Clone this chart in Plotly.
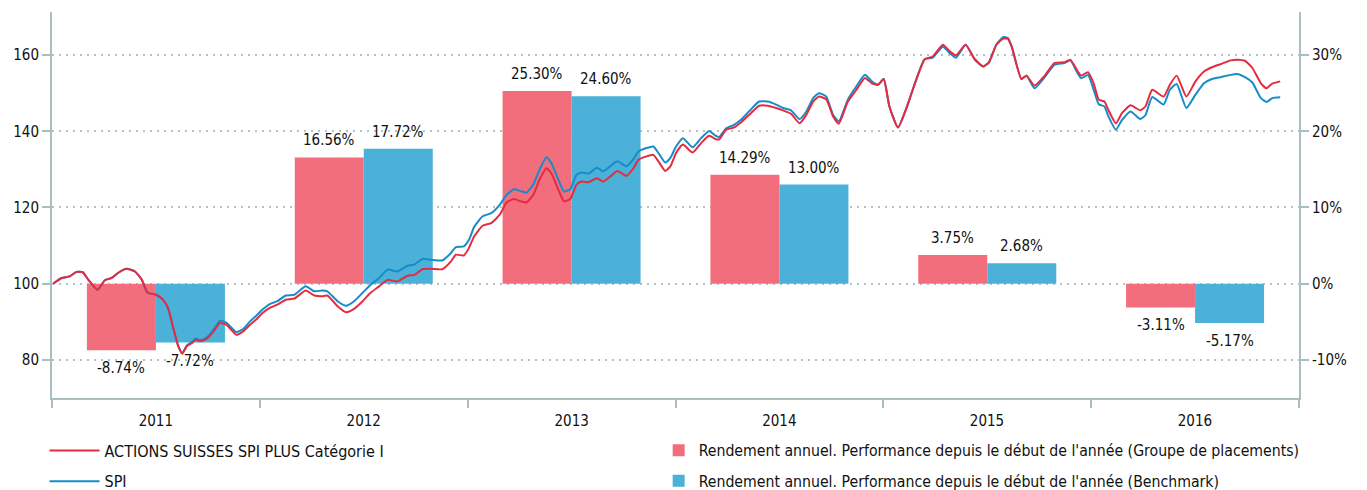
import plotly.graph_objects as go

# Annual returns (year-to-date performance, %)
years = ["2011", "2012", "2013", "2014", "2015", "2016"]
ret_fund = [-8.74, 16.56, 25.30, 14.29, 3.75, -3.11]
ret_bench = [-7.72, 17.72, 24.60, 13.00, 2.68, -5.17]

# Indexed performance (base 100)
dates = [
    "2011-01-03", "2011-01-18", "2011-02-01", "2011-02-13", "2011-02-24", "2011-03-06", "2011-03-22", "2011-04-04", "2011-04-16", "2011-04-27",
    "2011-05-12", "2011-05-27", "2011-06-08", "2011-06-18", "2011-07-03", "2011-07-15", "2011-07-24", "2011-08-03", "2011-08-11", "2011-08-18",
    "2011-08-26", "2011-09-03", "2011-09-11", "2011-09-18", "2011-09-27", "2011-10-05", "2011-10-14", "2011-10-23", "2011-11-04", "2011-11-21",
    "2011-12-03", "2011-12-15", "2011-12-26", "2012-01-06", "2012-01-18", "2012-02-01", "2012-02-16", "2012-03-02", "2012-03-22", "2012-04-06",
    "2012-04-20", "2012-04-29", "2012-05-17", "2012-06-01", "2012-06-15", "2012-06-30", "2012-07-14", "2012-07-29", "2012-08-13", "2012-08-30",
    "2012-09-17", "2012-09-29", "2012-10-13", "2012-10-28", "2012-11-17", "2012-12-02", "2012-12-11", "2012-12-25", "2013-01-03", "2013-01-12",
    "2013-01-27", "2013-02-11", "2013-02-26", "2013-03-10", "2013-03-23", "2013-04-04", "2013-04-14", "2013-04-26", "2013-05-07", "2013-05-19",
    "2013-05-28", "2013-06-09", "2013-06-19", "2013-06-30", "2013-07-11", "2013-07-20", "2013-08-01", "2013-08-16", "2013-08-27", "2013-09-08",
    "2013-09-21", "2013-10-07", "2013-10-19", "2013-10-28", "2013-11-11", "2013-11-23", "2013-12-02", "2013-12-14", "2013-12-23", "2014-01-02",
    "2014-01-14", "2014-01-31", "2014-02-15", "2014-03-01", "2014-03-13", "2014-03-19", "2014-03-31", "2014-04-14", "2014-04-26", "2014-05-14",
    "2014-05-28", "2014-06-12", "2014-06-27", "2014-07-09", "2014-07-23", "2014-08-07", "2014-08-19", "2014-08-31", "2014-09-10", "2014-09-23",
    "2014-10-05", "2014-10-15", "2014-10-31", "2014-11-15", "2014-11-30", "2014-12-12", "2014-12-23", "2015-01-02", "2015-01-12", "2015-01-27",
    "2015-02-11", "2015-02-25", "2015-03-15", "2015-03-29", "2015-04-16", "2015-04-28", "2015-05-09", "2015-05-26", "2015-06-11", "2015-06-26",
    "2015-07-06", "2015-07-19", "2015-07-31", "2015-08-08", "2015-08-15", "2015-09-01", "2015-09-10", "2015-09-24", "2015-10-12", "2015-10-29",
    "2015-11-16", "2015-11-26", "2015-12-09", "2015-12-15", "2015-12-27", "2016-01-06", "2016-01-15", "2016-01-25", "2016-02-01", "2016-02-14",
    "2016-02-25", "2016-03-11", "2016-03-28", "2016-04-06", "2016-04-18", "2016-05-08", "2016-05-19", "2016-05-31", "2016-06-17", "2016-07-03",
    "2016-07-18", "2016-08-01", "2016-08-16", "2016-09-03", "2016-09-15", "2016-09-28", "2016-10-11", "2016-10-26", "2016-11-05", "2016-11-15",
    "2016-11-29",
]

fund = [
    100.0, 101.5, 101.9, 103.1, 103.0, 101.0, 98.4, 100.9, 101.5, 102.8,
    103.9, 103.2, 101.0, 97.6, 97.1, 95.8, 93.6, 87.9, 83.6, 81.6,
    83.6, 84.3, 85.3, 84.9, 85.3, 86.2, 87.9, 89.7, 89.2, 86.6,
    87.5, 89.2, 90.6, 92.3, 93.6, 94.5, 95.8, 96.1, 98.2, 96.9,
    96.7, 96.9, 94.1, 92.5, 93.4, 95.4, 97.6, 99.3, 101.0, 100.6,
    102.1, 102.3, 103.8, 103.9, 103.8, 105.8, 107.6, 107.4, 109.4, 112.4,
    115.2, 115.9, 118.1, 121.3, 122.2, 121.6, 121.3, 123.3, 127.3, 130.3,
    128.9, 124.7, 121.6, 122.2, 126.0, 126.8, 126.6, 127.7, 126.8, 128.1,
    129.6, 128.3, 130.3, 132.5, 133.4, 133.8, 132.1, 129.6, 130.8, 134.3,
    136.5, 134.4, 136.9, 138.8, 137.9, 137.9, 140.4, 141.0, 142.3, 144.8,
    146.7, 146.7, 146.1, 145.5, 144.6, 142.1, 144.3, 147.8, 149.1, 148.4,
    143.9, 142.0, 147.8, 150.9, 154.0, 152.6, 152.2, 153.7, 146.5, 141.0,
    146.1, 152.2, 158.9, 159.6, 162.7, 161.0, 159.9, 162.7, 158.9, 157.0,
    158.1, 162.7, 164.3, 164.3, 162.2, 153.7, 154.6, 152.0, 154.6, 157.9,
    158.1, 158.8, 155.7, 154.6, 155.5, 152.6, 148.3, 147.8, 145.6, 142.1,
    144.8, 146.8, 145.5, 146.5, 150.9, 149.1, 152.2, 154.6, 149.1, 153.1,
    155.7, 156.8, 157.6, 158.6, 158.8, 158.5, 156.6, 152.6, 151.3, 152.5,
    153.1,
]

spi = [
    100.0, 101.5, 101.9, 103.1, 103.0, 101.0, 98.4, 100.9, 101.5, 102.8,
    103.9, 103.2, 101.0, 97.6, 97.1, 95.8, 93.6, 87.9, 83.6, 81.8,
    83.8, 84.6, 85.6, 85.2, 85.6, 86.6, 88.4, 90.3, 89.7, 87.3,
    88.1, 90.1, 91.6, 93.2, 94.6, 95.4, 96.9, 97.1, 99.3, 98.0,
    98.2, 98.0, 95.4, 94.2, 95.4, 97.6, 99.7, 101.5, 103.7, 103.2,
    104.7, 105.0, 106.5, 106.3, 106.1, 108.0, 109.6, 109.8, 111.5, 114.9,
    117.7, 118.5, 120.7, 123.3, 124.8, 124.3, 123.9, 126.0, 129.9, 133.2,
    131.6, 127.3, 124.2, 124.8, 128.6, 129.2, 128.9, 130.4, 129.5, 130.8,
    132.1, 130.8, 132.7, 134.7, 135.6, 136.0, 134.3, 131.8, 133.0, 136.0,
    138.2, 135.8, 138.2, 140.1, 138.8, 138.5, 140.8, 141.7, 143.0, 145.8,
    147.8, 147.8, 147.0, 146.1, 145.5, 143.2, 145.2, 148.7, 150.0, 149.1,
    144.3, 142.6, 148.3, 151.8, 154.8, 153.1, 152.2, 153.7, 146.5, 141.0,
    146.1, 152.2, 158.9, 159.3, 162.2, 160.5, 159.3, 162.7, 158.9, 157.0,
    158.1, 162.7, 164.7, 164.5, 162.2, 153.7, 154.6, 151.3, 154.2, 157.4,
    157.9, 158.6, 155.2, 153.9, 154.8, 150.9, 147.1, 146.5, 143.9, 140.4,
    143.0, 145.2, 143.2, 144.2, 149.0, 147.0, 150.9, 152.4, 146.1, 149.6,
    152.6, 153.7, 154.2, 154.8, 155.0, 154.2, 152.8, 148.7, 147.7, 148.7,
    148.9,
]

left_ticks = [80, 100, 120, 140, 160]
right_ticks = [-10, 0, 10, 20, 30]
right_labels = ["-10%", "0%", "10%", "20%", "30%"]

FONT = "DejaVu Sans Condensed, DejaVu Sans, sans-serif"
AXIS = "#A9BEBE"
GRID = "#B0C4C4"
BAR_RED = "#F26E7C"
BAR_BLUE = "#4BB1D8"
LINE_RED = "#E52B40"
LINE_BLUE = "#168CC8"

idx = list(range(len(years)))
bw = 0.332

fig = go.Figure()

# Annual return bars (base subplot: x = year slot, y = percent)
fig.add_trace(go.Bar(
    x=idx, y=ret_fund, width=bw, offset=-bw, marker_color=BAR_RED,
    marker_line_width=0,
    name="Rendement annuel. Performance depuis le début de l'année (Groupe de placements)",
    legend="legend2", legendrank=1, legendgroup="g1", xaxis="x", yaxis="y",
))
fig.add_trace(go.Bar(
    x=idx, y=ret_bench, width=bw, offset=0, marker_color=BAR_BLUE,
    marker_line_width=0,
    name="Rendement annuel. Performance depuis le début de l'année (Benchmark)",
    legend="legend2", legendrank=2, legendgroup="g2", xaxis="x", yaxis="y",
))

# Indexed performance lines (overlay subplot: dates, base-100 values)
fig.add_trace(go.Scatter(
    x=dates, y=spi, mode="lines", name="SPI",
    line=dict(color=LINE_BLUE, width=2, shape="spline", smoothing=0.5),
    legend="legend", legendrank=2, legendgroup="l2", xaxis="x2", yaxis="y2",
))
fig.add_trace(go.Scatter(
    x=dates, y=fund, mode="lines", name="ACTIONS SUISSES SPI PLUS Catégorie I",
    line=dict(color=LINE_RED, width=2, shape="spline", smoothing=0.5),
    legend="legend", legendrank=1, legendgroup="l1", xaxis="x2", yaxis="y2",
))

# Value labels for the bars
annotations = []
for i, (a, b) in enumerate(zip(ret_fund, ret_bench)):
    for v, dx in ((a, -bw / 2), (b, bw / 2)):
        annotations.append(dict(
            x=i + dx, y=v, xref="x", yref="y", text=f"{v:.2f}%",
            showarrow=False, yanchor="middle",
            yshift=17 if v >= 0 else -18,
            font=dict(family=FONT, size=15, color="#111111"),
        ))

fig.update_layout(
    width=1367, height=490,
    margin=dict(l=52, r=68, t=12, b=92, autoexpand=False),
    paper_bgcolor="white", plot_bgcolor="white",
    font=dict(family=FONT, size=15, color="#111111"),
    showlegend=True,
    annotations=annotations,
    xaxis=dict(range=[-0.5, 5.5], visible=False, fixedrange=True),
    yaxis=dict(
        range=[-15, 35.65], side="right", tickmode="array",
        tickvals=right_ticks, ticktext=right_labels,
        showgrid=False, zeroline=False,
        showline=True, linecolor=AXIS, linewidth=2,
        ticks="outside", ticklen=8, tickwidth=2, tickcolor=AXIS,
        tickfont=dict(size=15),
    ),
    xaxis2=dict(
        type="date", overlaying="x", side="bottom", anchor="y2",
        range=["2011-01-01", "2017-01-01"],
        tick0="2011-01-01", dtick="M12", tickformat="%Y",
        ticklabelmode="period", ticks="outside", ticklen=8, tickwidth=2,
        tickcolor=AXIS, showline=True, linecolor=AXIS, linewidth=2,
        showgrid=False, zeroline=False, tickfont=dict(size=15),
    ),
    yaxis2=dict(
        range=[70, 171.3], overlaying="y", side="left", anchor="x2",
        tickvals=left_ticks, showgrid=True, gridcolor=GRID, gridwidth=2,
        griddash="2px,5px", zeroline=False,
        showline=True, linecolor=AXIS, linewidth=2,
        ticks="outside", ticklen=8, tickwidth=2, tickcolor=AXIS,
        tickfont=dict(size=15),
    ),
    barmode="overlay",
    legend=dict(
        x=-0.006, y=-0.092, xanchor="left", yanchor="top",
        orientation="v", itemwidth=50, tracegroupgap=7,
        font=dict(size=16), bgcolor="rgba(0,0,0,0)",
    ),
    legend2=dict(
        x=0.4865, y=-0.092, xanchor="left", yanchor="top",
        orientation="v", tracegroupgap=7,
        font=dict(size=15.7), bgcolor="rgba(0,0,0,0)",
    ),
)

fig.write_html("out.html")
